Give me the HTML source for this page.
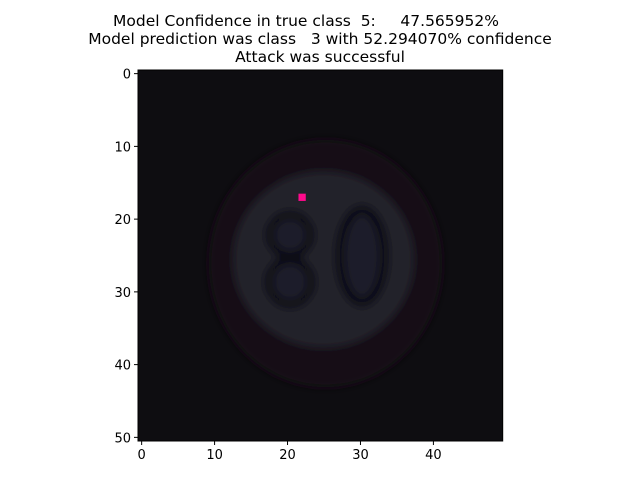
<!DOCTYPE html>
<html><head><meta charset="utf-8"><style>
body{margin:0;background:#fff;width:640px;height:480px;overflow:hidden;font-family:"DejaVu Sans","Liberation Sans",sans-serif}
svg text{font-family:"DejaVu Sans","Liberation Sans",sans-serif}
</style></head><body>
<svg id="chart" width="640" height="480" xmlns="http://www.w3.org/2000/svg">
<defs><filter id="blur" x="-20%" y="-20%" width="140%" height="140%"><feGaussianBlur stdDeviation="4"/></filter></defs>
<g font-size="15.5" text-anchor="middle" fill="#000">
<text x="306" y="26" xml:space="preserve">Model Confidence in true class  5:     47.565952%</text>
<text x="320" y="44" xml:space="preserve">Model prediction was class   3 with 52.294070% confidence</text>
<text x="320" y="62">Attack was successful</text>
</g>
<g id="img"></g>
<g id="axes"></g>
</svg>
<script>
const nCols = 50, nRows = 51;
const xTicks = [0, 10, 20, 30, 40];
const yTicks = [0, 10, 20, 30, 40, 50];
const perturbedPixel = [22, 17];
const perturbedColor = "#ff0a8c";
const X0 = 138, X1 = 502.7, Y0 = 70, Y1 = 441;
const cw = (X1 - X0) / nCols, ch = (Y1 - Y0) / nRows;
const sx = c => X0 + (c + 0.5) * cw;
const sy = r => Y0 + (r + 0.5) * ch;
const NS = "http://www.w3.org/2000/svg";
function mk(tag, attrs, parent) {
  const e = document.createElementNS(NS, tag);
  for (const k in attrs) e.setAttribute(k, attrs[k]);
  parent.appendChild(e);
  return e;
}
const img = document.getElementById('img');
const bg = mk('rect', {x: X0, y: Y0, width: X1 - X0, height: Y1 - Y0, fill: '#0e0d11'}, img);


const g = mk('g', {filter: 'url(#blur)'}, img);


const cx = X0 + 25.7 * cw, cy = Y0 + 26.6 * ch;
const ring = mk('ellipse', {cx: cx, cy: cy, rx: 16 * cw, ry: 17 * ch, fill: '#190d12'}, g);


const inner = mk('ellipse', {cx: cx - 2, cy: cy - 4, rx: 12.4 * cw, ry: 12.1 * ch, fill: '#22222c'}, g);


const d8a = mk('ellipse', {cx: 290, cy: 235, rx: 20, ry: 20, fill: '#1e1e2a', stroke: '#111117', 'stroke-width': 9}, g);


const d8b = mk('ellipse', {cx: 290, cy: 282, rx: 21, ry: 22, fill: '#1e1e2a', stroke: '#111117', 'stroke-width': 9}, g);


const d0 = mk('ellipse', {cx: 362, cy: 256, rx: 22, ry: 46, fill: '#1e1f2b', stroke: '#111117', 'stroke-width': 10}, g);


const px = mk('rect', {x: X0 + perturbedPixel[0] * cw, y: Y0 + perturbedPixel[1] * ch, width: cw, height: ch, fill: perturbedColor}, img);



const axes = document.getElementById('axes');
const frame = mk('rect', {x: X0, y: Y0, width: X1 - X0, height: Y1 - Y0, fill: 'none', stroke: '#000', 'stroke-width': 1}, axes);


xTicks.forEach(t => {
  const x = sx(t);
  const l = mk('line', {x1: x, x2: x, y1: Y1, y2: Y1 + 4, stroke: '#000'}, axes);
  
  
  const tx = mk('text', {x: x, y: Y1 + 18, 'font-size': 13, 'text-anchor': 'middle'}, axes);
  tx.textContent = t;
  
  
});
yTicks.forEach(t => {
  const y = sy(t);
  const l = mk('line', {x1: X0 - 4, x2: X0, y1: y, y2: y, stroke: '#000'}, axes);
  
  
  const tx = mk('text', {x: X0 - 7, y: y + 5, 'font-size': 13, 'text-anchor': 'end'}, axes);
  tx.textContent = t;
  
  
});
</script>
</body></html>
